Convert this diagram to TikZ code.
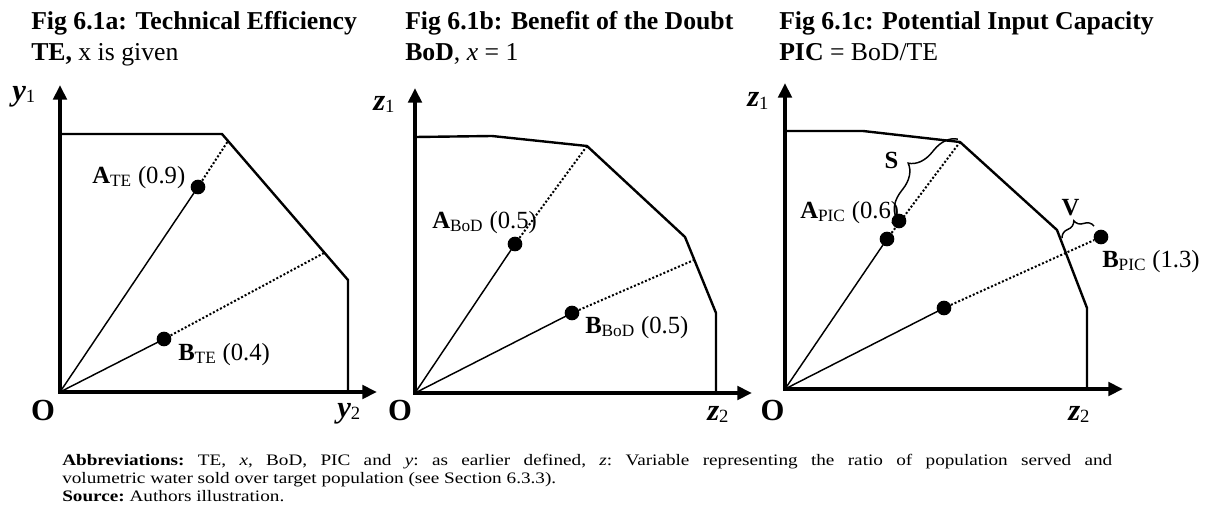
\documentclass[tikz,border=0pt]{standalone}
\usepackage{fontspec}
\setmainfont{Liberation Serif}
\newfontfamily\notefont{Liberation Serif}[FakeStretch=1.2]
\usetikzlibrary{arrows.meta,decorations.pathreplacing}

\newcommand\axsub[1]{\raisebox{-0.15ex}{\fontsize{14}{14}\selectfont #1}}

\tikzset{
  axis/.style={line width=3pt,{Triangle[length=11pt,width=10pt]}-{Triangle[length=11pt,width=10pt]}},
  front/.style={line width=1.8pt,line join=miter},
  ray/.style={line width=1.1pt},
  proj/.style={line width=1.5pt,dash pattern=on 1.5pt off 1.5pt},
  dot/.style={circle,fill,inner sep=0pt,minimum size=11pt},
  ttl/.style={anchor=base west,inner sep=0pt,font=\fontsize{19.3}{23}\selectfont},
  lab/.style={anchor=base west,inner sep=0pt,font=\fontsize{18.5}{22}\selectfont},
  axlab/.style={anchor=base west,inner sep=0pt,font=\fontsize{23}{27}\selectfont},
  brc/.style={line width=1.1pt,decorate,decoration={brace,amplitude=#1}},
}

\begin{document}
\begin{tikzpicture}[x=0.75pt,y=0.75pt]
  \useasboundingbox (0,0) rectangle (1210,519);

  % Fig 6.1a
  \begin{scope}[shift={(60,127)}]
    \node[ttl] (aT1) at (-29,362) {\textbf{Fig 6.1a: Technical Efficiency}};
    \node[ttl] (aT2) at (-29,332) {\textbf{TE,} x is given};
    \coordinate (aO) at (0,0);
    \draw[front] (0,258) -- (162,258) -- (288,112) -- (288,0);
    \coordinate (aAf) at (168,251);
    \coordinate (aBf) at (264,139);
    \node[dot] (aA) at (138,205) {};
    \node[dot] (aB) at (104,53) {};
    \draw[ray] (aO) -- (aA.center);
    \draw[ray] (aO) -- (aB.center);
    \draw[proj] (aA) -- (aAf);
    \draw[proj] (aB) -- (aBf);
    \draw[axis] (0,307) -- (aO) -- (317,0);
    \node[lab] (aAl) at (32,209) {\textbf{A}\textsubscript{TE} (0.9)};
    \node[lab] (aBl) at (118,32) {\textbf{B}\textsubscript{TE} (0.4)};
    \node[axlab] (aY1) at (-48,292) {\textbf{\textit{y}}\axsub{1}};
    \node[axlab] (aY2) at (277,-25) {\textbf{\textit{y}}\axsub{2}};
    \node[axlab,anchor=base] (aOl) at (-17,-28) {\textbf{O}};
  \end{scope}

  % Fig 6.1b
  \begin{scope}[shift={(415,126)}]
    \node[ttl] (bT1) at (-10,363) {\textbf{Fig 6.1b: Benefit of the Doubt}};
    \node[ttl] (bT2) at (-10,333) {\textbf{BoD}, \textit{x} = 1};
    \coordinate (bO) at (0,0);
    \draw[front] (0,256) -- (77,257) -- (172,247) -- (270,156) -- (301,80) -- (301,0);
    \coordinate (bAf) at (172,247);
    \coordinate (bBf) at (279,133);
    \node[dot] (bA) at (100,149) {};
    \node[dot] (bB) at (157,80) {};
    \draw[ray] (bO) -- (bA.center);
    \draw[ray] (bO) -- (bB.center);
    \draw[proj] (bA) -- (bAf);
    \draw[proj] (bB) -- (bBf);
    \draw[axis] (0,305) -- (bO) -- (337,0);
    \node[lab] (bAl) at (17,165) {\textbf{A}\textsubscript{BoD} (0.5)};
    \node[lab] (bBl) at (170,60) {\textbf{B}\textsubscript{BoD} (0.5)};
    \node[axlab] (bZ1) at (-42,283) {\textbf{\textit{z}}\axsub{1}};
    \node[axlab] (bZ2) at (292,-27) {\textbf{\textit{z}}\axsub{2}};
    \node[axlab,anchor=base] (bOl) at (-15,-27) {\textbf{O}};
  \end{scope}

  % Fig 6.1c
  \begin{scope}[shift={(785,130)}]
    \node[ttl] (cT1) at (-6,359) {\textbf{Fig 6.1c: Potential Input Capacity}};
    \node[ttl] (cT2) at (-6,329) {\textbf{PIC} = BoD/TE};
    \coordinate (cO) at (0,0);
    \draw[front] (0,258) -- (78,258) -- (175,247) -- (272,159) -- (302,81) -- (302,0);
    \coordinate (cAf) at (175,247);
    \node[dot] (cA1) at (102,150) {};
    \node[dot] (cA2) at (114,168) {};
    \node[dot] (cB1) at (159,81) {};
    \node[dot] (cB2) at (316,152) {};
    \draw[ray] (cO) -- (cA1.center);
    \draw[ray] (cO) -- (cB1.center);
    \draw[proj] (cA1) -- (cAf);
    \draw[proj] (cB1) -- (cB2);
    \draw[axis] (0,306) -- (cO) -- (338,0);
    % slack braces
    \draw[brc=18pt] (111,172) -- (173,250);
    \draw[brc=9pt] (277,151) -- (309,163);
    \node[lab,anchor=base] (cS) at (106.5,221) {\textbf{S}};
    \node[lab,anchor=base] (cV) at (285.5,174) {\textbf{V}};
    \node[lab] (cAl) at (15,171) {\textbf{A}\textsubscript{PIC} (0.6)};
    \node[lab] (cBl) at (317,122) {\textbf{B}\textsubscript{PIC} (1.3)};
    \node[axlab] (cZ1) at (-38,282) {\textbf{\textit{z}}\axsub{1}};
    \node[axlab] (cZ2) at (283,-31) {\textbf{\textit{z}}\axsub{2}};
    \node[axlab,anchor=base] (cOl) at (-12.5,-31) {\textbf{O}};
  \end{scope}

  \node[anchor=north west,inner sep=0pt,text width=787.5pt,align=justify,
        font=\notefont\fontsize{12}{13.5}\selectfont\frenchspacing] (note) at (62,65)
    {\textbf{Abbreviations:} TE, \textit{x}, BoD, PIC and \textit{y}: as earlier defined, \textit{z}: Variable representing the ratio of population served and\linebreak
     volumetric water sold over target population (see Section 6.3.3).\newline
     \textbf{Source:} Authors illustration.};
\end{tikzpicture}
\end{document}
